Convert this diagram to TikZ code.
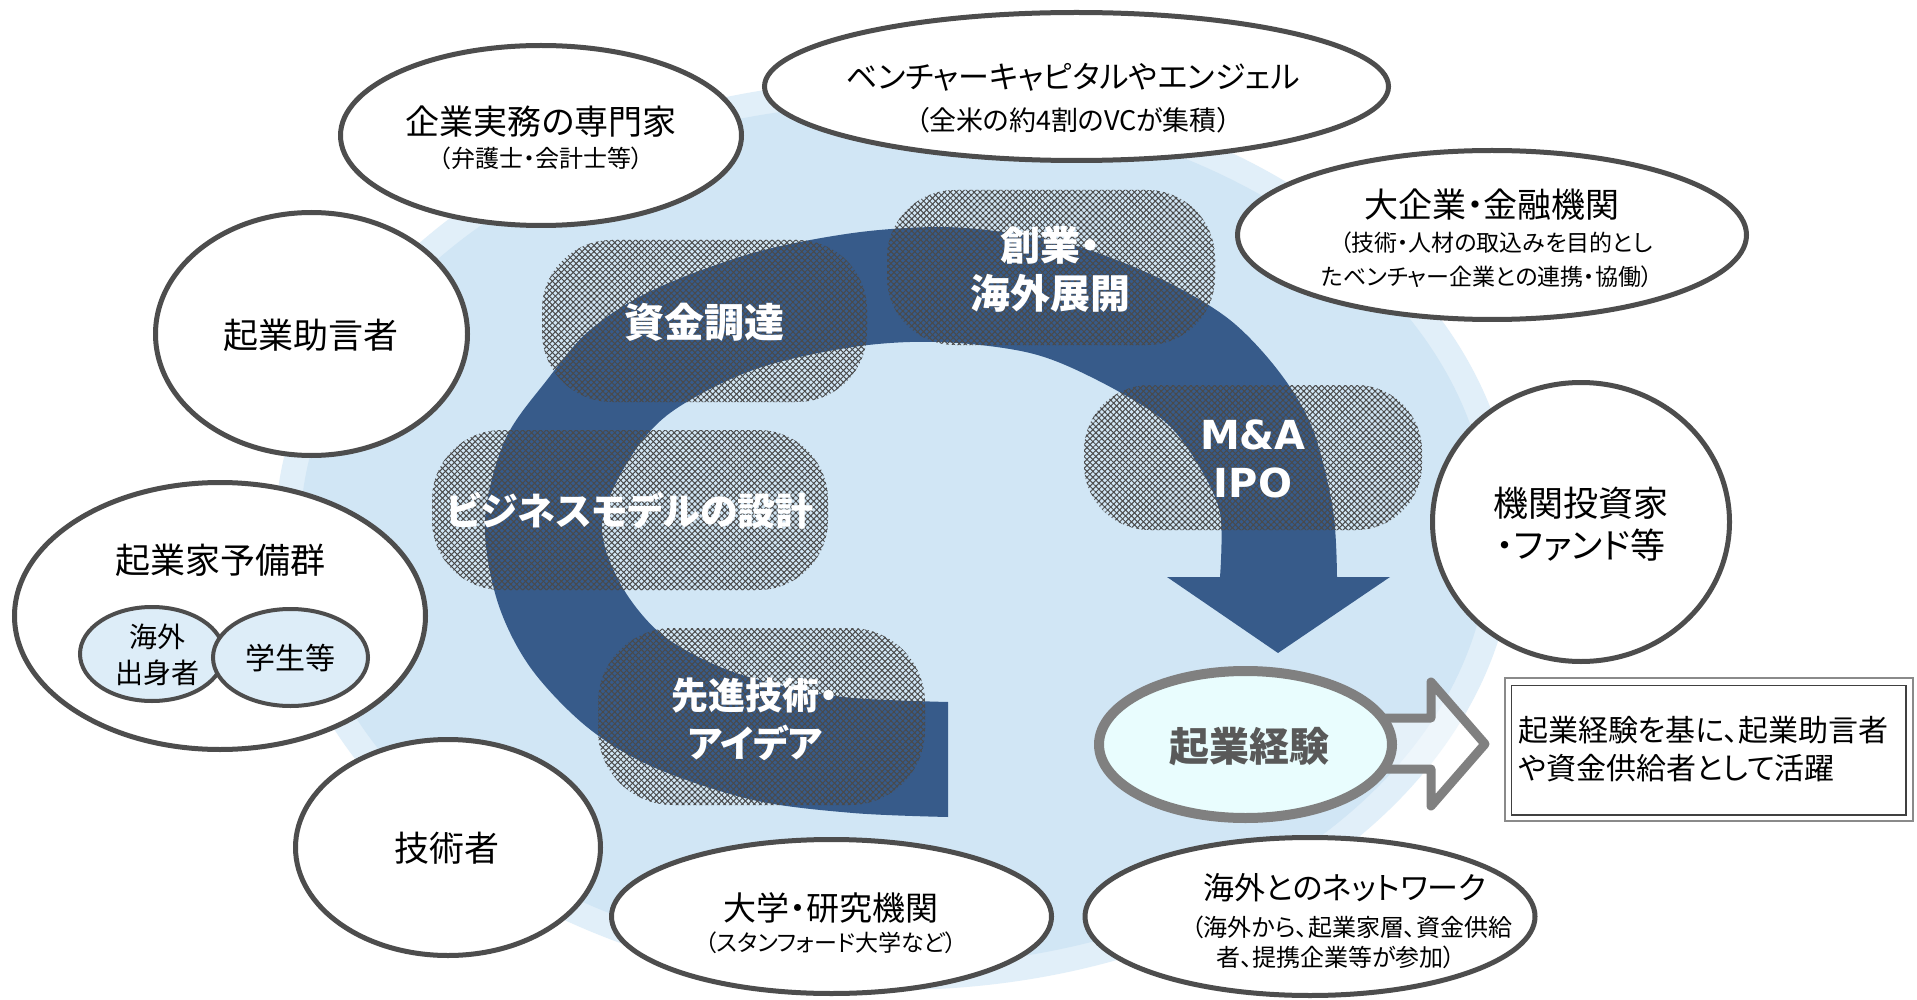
\documentclass[tikz,border=0pt]{standalone}
\usepackage{fontspec}
\setmainfont{Noto Sans CJK JP}[RawFeature={+palt}]
\newfontfamily\dejavu{DejaVu Sans}
\usetikzlibrary{shapes.geometric,patterns.meta}
\definecolor{bgout}{HTML}{E1EFF9}
\definecolor{bgin}{HTML}{D1E6F5}
\definecolor{band}{HTML}{375B8A}
\definecolor{edge}{HTML}{4D4D4D}
\definecolor{hatchc}{HTML}{4A4A4A}
\definecolor{expfill}{HTML}{E9FDFE}
\definecolor{expedge}{HTML}{808080}
\definecolor{exptext}{HTML}{595959}
\definecolor{smallfill}{HTML}{DDEDF8}
\definecolor{boxout}{HTML}{8A8A8A}
\definecolor{boxin}{HTML}{404040}
\newcommand\fsz[2]{\fontsize{#1}{#2}\selectfont}
\begin{document}
\begin{tikzpicture}[x=1pt,y=-1pt,
  wellipse/.style={ellipse, draw=edge, line width=5pt, fill=white, inner sep=0pt},
  sellipse/.style={ellipse, draw=edge, line width=4pt, fill=smallfill, inner sep=0pt},
  hatchA/.style={pattern={Lines[angle=45,distance=4.2pt,line width=1pt]}, pattern color=hatchc},
  hatchB/.style={pattern={Lines[angle=-45,distance=4.2pt,line width=1pt]}, pattern color=hatchc},
  wlabel/.style={text=white, font=\bfseries\fsz{40}{48}, align=center, inner sep=0pt},
  blabel/.style={text=black, align=center, inner sep=0pt}]

\useasboundingbox (0,0) rectangle (1917,1000);
\fill[white] (0,0) rectangle (1917,1000);

% background
\fill[bgout] (895,535) ellipse [x radius=620, y radius=455];
\fill[bgin] (895,535) ellipse [x radius=595, y radius=431];

% curved band with arrow head
\fill[band] plot[smooth, tension=0.55] coordinates {(948,817) (853,813) (753,800) (653,767) (587,727) (530,667) (497,600) (485,520) (505,440) (547,380) (590,330) (653,290) (753,253) (853,233) (940,227) (1010,233) (1080,247) (1163,280) (1230,320) (1280,373) (1313,430) (1333,510) (1337,577)}
  -- (1390,577) -- (1278,653) -- (1167,577) -- (1220,577)
  -- plot[smooth, tension=0.55] coordinates {(1220,577) (1220,513) (1197,463) (1163,420) (1097,380) (1030,353) (940,342) (853,347) (753,370) (670,413) (627,463) (602,525) (620,583) (660,633) (720,667) (787,687) (853,698) (948,702)}
  -- cycle;

% hatched stadiums
\foreach \a/\b/\c/\d/\r in {542/240/867/402/70, 887/190/1215/345/68, 1084/385/1422/530/66, 432/430/828/590/70, 598/628/925/805/75}{
  \path[hatchA, rounded corners=\r] (\a,\b) rectangle (\c,\d);
  \path[hatchB, rounded corners=\r] (\a,\b) rectangle (\c,\d);
}

% white bold labels
\node[wlabel] (lfund) at (704,322) {資金調達};
\node[wlabel] (lfound) at (1050,269) {創業・\\海外展開};
\node[wlabel, font=\dejavu\bfseries\fsz{40}{48}] (lma) at (1253,459) {M\&A\\IPO};
\node[wlabel, font=\bfseries\fsz{38}{44}] (lbiz) at (630,511) {ビジネスモデルの設計};
\node[wlabel, font=\bfseries\fsz{37}{48}] (ltech) at (755,719) {先進技術・\\アイデア};

% surrounding ellipses
\node[wellipse, minimum width=401, minimum height=180] (eexp) at (541,135.5) {};
\node[wellipse, minimum width=624, minimum height=148] (evc) at (1076.5,86.5) {};
\node[wellipse, minimum width=509, minimum height=169] (ecorp) at (1492,235) {};
\node[wellipse, minimum width=312, minimum height=243] (eadv) at (311.5,334) {};
\node[wellipse, minimum width=411, minimum height=267] (epool) at (220,616) {};
\node[sellipse, minimum width=144, minimum height=94] (eforeign) at (152,654) {};
\node[sellipse, minimum width=155, minimum height=97] (estudent) at (290.5,657.5) {};
\node[wellipse, minimum width=305, minimum height=216] (eeng) at (448,847.5) {};
\node[wellipse, minimum width=440, minimum height=154] (euniv) at (831.5,916.5) {};
\node[wellipse, minimum width=450, minimum height=158] (enet) at (1310,916.5) {};
\node[wellipse, minimum width=297, minimum height=279] (einst) at (1581,522) {};

% texts in ellipses
\node[blabel, font=\fsz{34}{40}] (t1a) at (541,122) {企業実務の専門家};
\node[blabel, font=\fsz{24}{28}] (t1b) at (541,158) {（弁護士・会計士等）};
\node[blabel, font=\fsz{31}{38}] (t2a) at (1073,77) {ベンチャーキャピタルやエンジェル};
\node[blabel, font=\fsz{27}{32}] (t2b) at (1073,120) {（全米の約4割のVCが集積）};
\node[blabel, font=\fsz{34}{40}] (t3a) at (1492,205) {大企業・金融機関};
\node[blabel, font=\fsz{23}{28}] (t3b) at (1496,243) {（技術・人材の取込みを目的とし};
\node[blabel, font=\fsz{23}{28}] (t3c) at (1487,277) {たベンチャー企業との連携・協働）};
\node[blabel, font=\fsz{35}{40}] (t4) at (311,335) {起業助言者};
\node[blabel, font=\fsz{35}{40}] (t5) at (220,560) {起業家予備群};
\node[blabel, font=\fsz{28}{36}] (t6) at (157,655) {海外\\出身者};
\node[blabel, font=\fsz{30}{36}] (t7) at (290,658) {学生等};
\node[blabel, font=\fsz{35}{40}] (t8) at (447,848) {技術者};
\node[blabel, font=\fsz{33}{38}] (t9a) at (831,908) {大学・研究機関};
\node[blabel, font=\fsz{23}{28}] (t9b) at (831,943) {（スタンフォード大学など）};
\node[blabel, font=\fsz{31}{36}] (t10a) at (1345,888) {海外とのネットワーク};
\node[blabel, font=\fsz{24}{28}] (t10b) at (1352,927) {（海外から、起業家層、資金供給};
\node[blabel, font=\fsz{24}{28}] (t10c) at (1336,957) {者、提携企業等が参加）};
\node[blabel, font=\fsz{35}{42}] (t11) at (1581,524) {機関投資家\\・ファンド等};

% hollow arrow and experience ellipse
\draw[expedge, line width=9pt, line join=round, fill=white, fill opacity=0.45] (1370,718) -- (1431,718) -- (1431,682) -- (1485,744) -- (1431,806) -- (1431,769) -- (1370,769) -- cycle;
\node[ellipse, draw=expedge, line width=10pt, fill=expfill, inner sep=0pt, minimum width=293, minimum height=147] (eexper) at (1245.5,744.5) {};
\node[text=exptext, font=\bfseries\fsz{40}{48}, inner sep=0pt] (texper) at (1249,747) {起業経験};

% text box
\node[draw=boxout, line width=1.5pt, fill=white, minimum width=408, minimum height=143, inner sep=0pt] (box) at (1709,749.5) {};
\draw[boxin, line width=1.5pt] ([shift={(7,8)}]box.north west) rectangle ([shift={(-8,-7)}]box.south east);
\node[anchor=west, align=left, inner sep=0pt, font=\fsz{30}{38}] (tbox) at (1518,749) {起業経験を基に、起業助言者\\や資金供給者として活躍};
\end{tikzpicture}
\end{document}
